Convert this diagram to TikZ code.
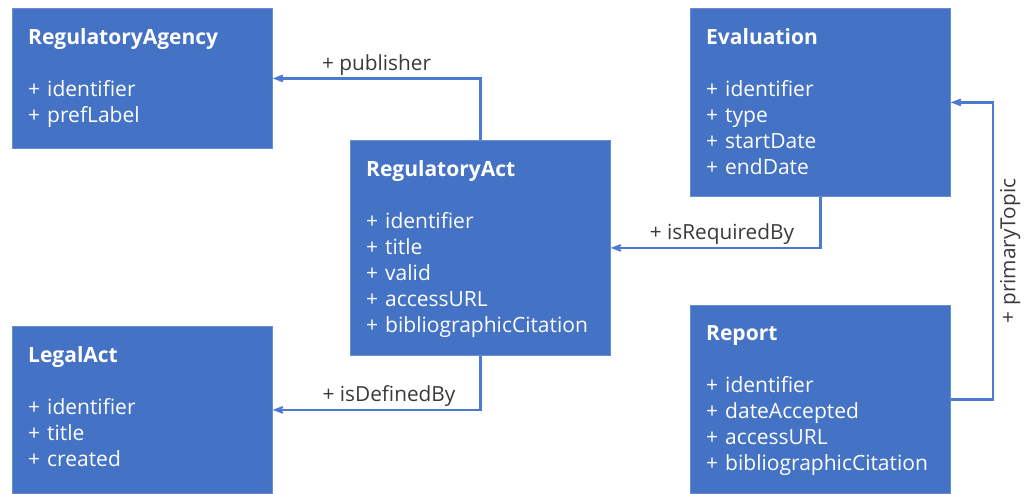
\documentclass[tikz,border=0pt]{standalone}
\usepackage{fontspec}
\setmainfont{Open Sans}
\usetikzlibrary{arrows.meta}
\definecolor{classblue}{HTML}{4472C4}
\definecolor{linkblue}{HTML}{4A7BD0}
\definecolor{labelgray}{HTML}{3A3A3A}
\tikzset{
  classbox/.style={rectangle, fill=classblue, draw=classblue!80!white, line width=0.8pt,
    minimum width=260pt, anchor=north west, inner sep=0pt},
  classtext/.style={anchor=north west, inner sep=0pt, text=white, align=left,
    text width=244pt, font=\fontsize{21}{26}\selectfont},
  link/.style={draw=linkblue, line width=2.6pt,
    -{Stealth[length=18pt,width=14pt,inset=11pt]}},
  linklabel/.style={text=labelgray, font=\fontsize{20.8}{24}\selectfont, inner sep=2pt}
}
\begin{document}
\begin{tikzpicture}[x=1pt,y=-1pt]
  \useasboundingbox (0,0) rectangle (1025,493);
  % class boxes
  \node[classbox, minimum height=140pt] (agency) at (12,8) {};
  \node[classbox, minimum height=215pt] (act) at (350,140) {};
  \node[classbox, minimum height=188pt] (eval) at (690,8) {};
  \node[classbox, minimum height=167pt] (legal) at (12,326) {};
  \node[classbox, minimum height=188pt] (report) at (690,305) {};
  % class texts
  \node[classtext] (agencytext) at ([xshift=16pt,yshift=-20.5pt]agency.north west)
    {\textbf{RegulatoryAgency}\\[26pt]+ identifier\\+ prefLabel};
  \node[classtext] (acttext) at ([xshift=16pt,yshift=-20.5pt]act.north west)
    {\textbf{RegulatoryAct}\\[26pt]+ identifier\\+ title\\+ valid\\+ accessURL\\+ bibliographicCitation};
  \node[classtext] (evaltext) at ([xshift=16pt,yshift=-20.5pt]eval.north west)
    {\textbf{Evaluation}\\[26pt]+ identifier\\+ type\\+ startDate\\+ endDate};
  \node[classtext] (legaltext) at ([xshift=16pt,yshift=-20.5pt]legal.north west)
    {\textbf{LegalAct}\\[26pt]+ identifier\\+ title\\+ created};
  \node[classtext] (reporttext) at ([xshift=16pt,yshift=-20.5pt]report.north west)
    {\textbf{Report}\\[26pt]+ identifier\\+ dateAccepted\\+ accessURL\\+ bibliographicCitation};
  % associations
  \draw[link] (act.north) |- node[linklabel, pos=0.75, above] {+ publisher} (agency.east);
  \draw[link] (eval.south) |- node[linklabel, pos=0.735, above] {+ isRequiredBy} (act.east);
  \draw[link] (act.south) |- node[linklabel, pos=0.72, above] {+ isDefinedBy} (legal.east);
  \draw[link] (report.east) -- ++(42,0) |- node[linklabel, pos=0.25, rotate=90, anchor=north, inner sep=6pt] {+ primaryTopic} (eval.east);
\end{tikzpicture}
\end{document}
